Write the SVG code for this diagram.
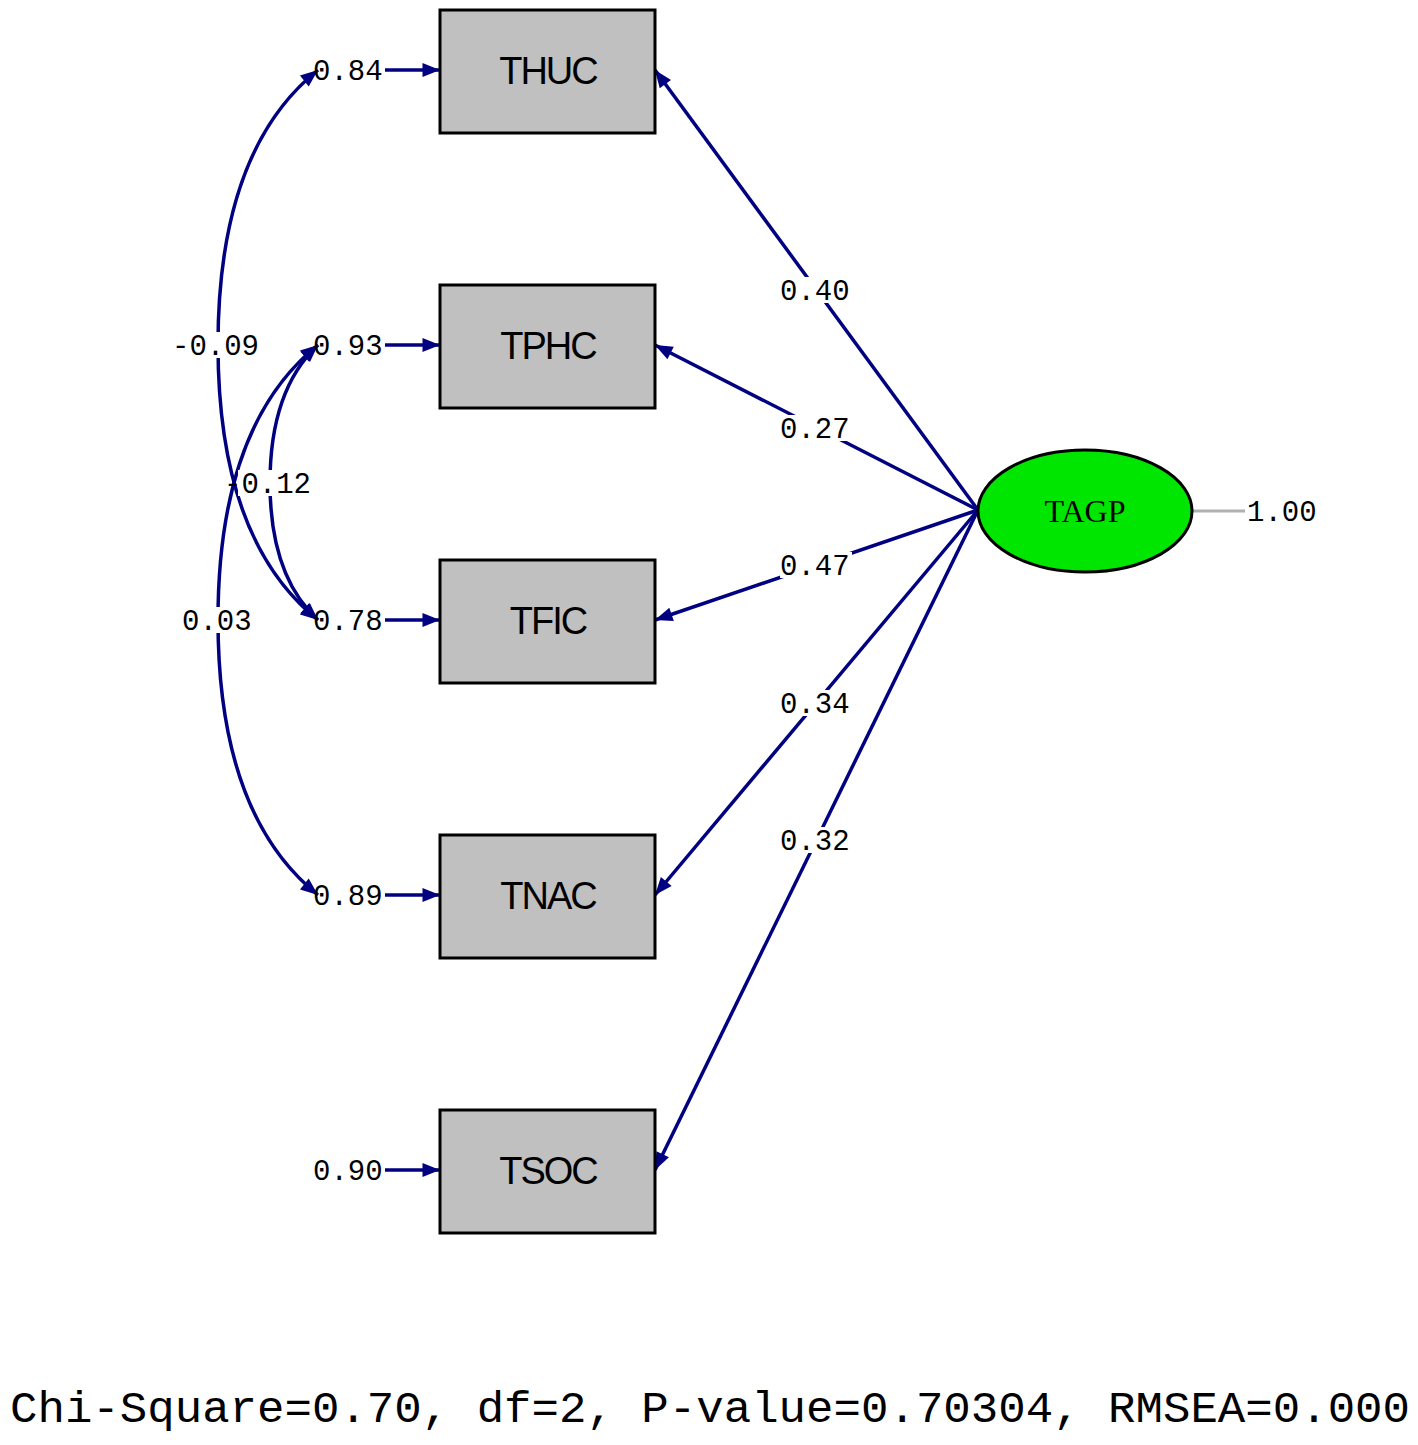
<svg xmlns="http://www.w3.org/2000/svg" width="1418" height="1445" viewBox="0 0 1418 1445">
<style>
.box{fill:#c0c0c0;stroke:#000;stroke-width:3}
.bt{font-family:"Liberation Sans",Arial,sans-serif;font-size:38px;letter-spacing:-2px;text-anchor:middle;fill:#000}
.m{font-family:"Liberation Mono","Courier New",monospace;font-size:29px;fill:#000}
.c{fill:none;stroke:#000080;stroke-width:3.5}
.bg{fill:#fff}
</style>
<defs>
<marker id="a" viewBox="0 0 10 10" refX="10" refY="5" markerWidth="7" markerHeight="5" markerUnits="strokeWidth" orient="auto-start-reverse"><path d="M0,1 L10,5 L0,9 Z" fill="#000080"/></marker>
</defs>
<rect width="1418" height="1445" fill="#fff"/>
<g id="connectors">
<path class="c" d="M318,70 Q218,150 218,345 Q218,540 318,620" marker-start="url(#a)" marker-end="url(#a)"/>
<path class="c" d="M318,345 Q218,425 218,620 Q218,815 318,895" marker-start="url(#a)" marker-end="url(#a)"/>
<path class="c" d="M318,345 Q270,390 270,483 Q270,576 318,620" marker-start="url(#a)" marker-end="url(#a)"/>
<path class="c" d="M978,510 L655,70" marker-end="url(#a)"/>
<path class="c" d="M978,510 L655,345" marker-end="url(#a)"/>
<path class="c" d="M978,510 L655,620" marker-end="url(#a)"/>
<path class="c" d="M978,510 L655,895" marker-end="url(#a)"/>
<path class="c" d="M978,510 L655,1170" marker-end="url(#a)"/>
<path class="c" d="M385,70 H440" marker-end="url(#a)"/>
<path class="c" d="M385,345 H440" marker-end="url(#a)"/>
<path class="c" d="M385,620 H440" marker-end="url(#a)"/>
<path class="c" d="M385,895 H440" marker-end="url(#a)"/>
<path class="c" d="M385,1170 H440" marker-end="url(#a)"/>
<line x1="1193" y1="511" x2="1245" y2="511" stroke="#b0b0b0" stroke-width="3"/>
</g>
<g id="labels">
<rect class="bg" x="172" y="332" width="92" height="26"/><text class="m" x="172" y="355">-0.09</text>
<rect class="bg" x="182" y="607" width="72" height="26"/><text class="m" x="182" y="630">0.03</text>
<rect class="bg" x="238" y="470" width="76" height="26"/><text class="m" x="224" y="493">-0.12</text>
<text class="m" x="313" y="80">0.84</text>
<text class="m" x="313" y="355">0.93</text>
<text class="m" x="313" y="630">0.78</text>
<text class="m" x="313" y="905">0.89</text>
<text class="m" x="313" y="1180">0.90</text>
<rect class="bg" x="780" y="277" width="72" height="26"/><text class="m" x="780" y="300">0.40</text>
<rect class="bg" x="780" y="415" width="72" height="26"/><text class="m" x="780" y="438">0.27</text>
<rect class="bg" x="780" y="552" width="72" height="26"/><text class="m" x="780" y="575">0.47</text>
<rect class="bg" x="780" y="690" width="72" height="26"/><text class="m" x="780" y="713">0.34</text>
<rect class="bg" x="780" y="827" width="72" height="26"/><text class="m" x="780" y="850">0.32</text>
<text class="m" x="1247" y="521">1.00</text>
</g>
<g id="THUC"><rect class="box" x="440" y="10" width="215" height="123"/><text class="bt" x="548" y="84">THUC</text></g>
<g id="TPHC"><rect class="box" x="440" y="285" width="215" height="123"/><text class="bt" x="548" y="359">TPHC</text></g>
<g id="TFIC"><rect class="box" x="440" y="560" width="215" height="123"/><text class="bt" x="548" y="634">TFIC</text></g>
<g id="TNAC"><rect class="box" x="440" y="835" width="215" height="123"/><text class="bt" x="548" y="909">TNAC</text></g>
<g id="TSOC"><rect class="box" x="440" y="1110" width="215" height="123"/><text class="bt" x="548" y="1184">TSOC</text></g>
<g id="TAGP"><ellipse cx="1085" cy="511" rx="107" ry="61" fill="#00e600" stroke="#000" stroke-width="3"/><text x="1085" y="522" text-anchor="middle" font-family="Liberation Serif,serif" font-size="32" fill="#000">TAGP</text></g>
<text class="m" x="10" y="1422" font-size="45" textLength="1400" lengthAdjust="spacingAndGlyphs" style="font-size:45px">Chi-Square=0.70, df=2, P-value=0.70304, RMSEA=0.000</text>
</svg>
